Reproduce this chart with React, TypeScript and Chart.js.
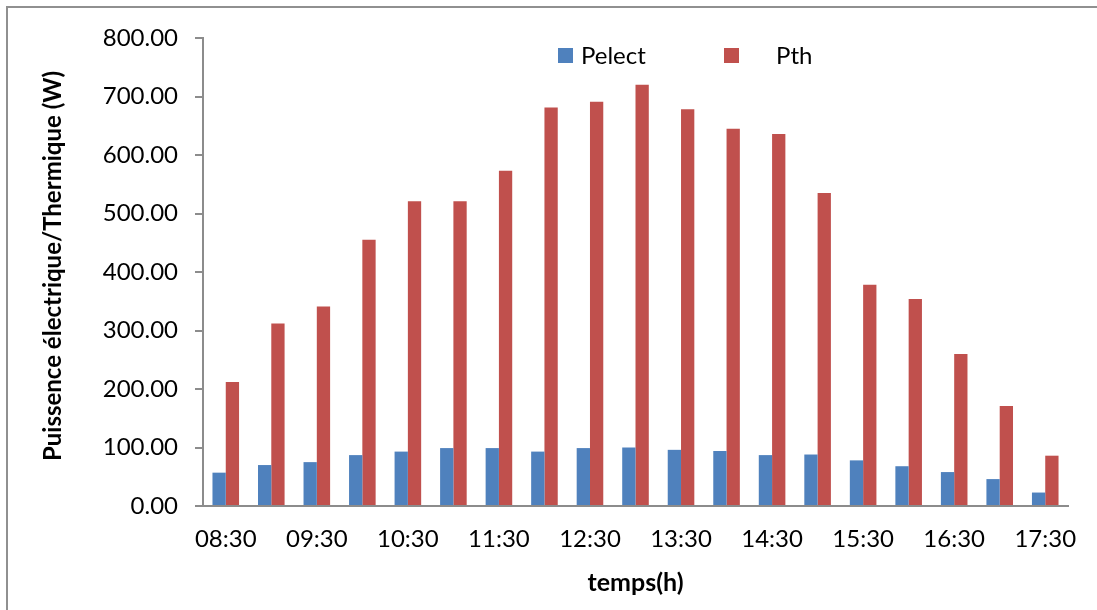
import React, { useEffect, useRef } from "react";
import { Chart, registerables } from "chart.js";

Chart.register(...registerables);

const categories = [
  "08:30", "09:00", "09:30", "10:00", "10:30", "11:00", "11:30", "12:00", "12:30", "13:00",
  "13:30", "14:00", "14:30", "15:00", "15:30", "16:00", "16:30", "17:00", "17:30",
];
const pelect = [57, 70, 75, 87, 93, 99, 99, 93, 99, 100, 96, 94, 87, 88, 78, 68, 58, 46, 23];
const pth = [212, 312, 341, 455, 521, 521, 573, 681, 691, 720, 678, 645, 636, 535, 378, 354, 260, 171, 86];
const yTicks = [0, 100, 200, 300, 400, 500, 600, 700, 800];
const seriesNames = ["Pelect", "Pth"];
const yTitle = "Puissence électrique/Thermique (W)";
const xTitle = "temps(h)";

const BLUE = "#4F81BD";
const RED = "#C0504D";
const AXIS = "#8c8c8c";
const FONT = "Lato, 'Open Sans', sans-serif";

export default function App() {
  const ref = useRef<HTMLCanvasElement | null>(null);

  useEffect(() => {
    if (!ref.current) return;
    Chart.defaults.color = "#000";

    const extras = {
      id: "extras",
      beforeDraw(chart: any) {
        const ctx = chart.ctx;
        ctx.save();
        ctx.fillStyle = "#fff";
        ctx.fillRect(0, 0, chart.width, chart.height);
        ctx.strokeStyle = "#909090";
        ctx.lineWidth = 2;
        ctx.beginPath();
        ctx.moveTo(7, chart.height);
        ctx.lineTo(7, 7);
        ctx.lineTo(chart.width, 7);
        ctx.stroke();
        ctx.restore();
      },
      afterDraw(chart: any) {
        const ctx = chart.ctx;
        ctx.save();
        // y axis title
        ctx.translate(53, 266);
        ctx.rotate(-Math.PI / 2);
        ctx.font = `bold 24px ${FONT}`;
        ctx.fillStyle = "#000";
        ctx.textAlign = "center";
        ctx.textBaseline = "middle";
        ctx.fillText(yTitle, 0, 0);
        ctx.restore();

        // legend
        ctx.save();
        ctx.font = `24px ${FONT}`;
        ctx.textBaseline = "middle";
        ctx.fillStyle = "#000";
        const items = [
          { box: 558, text: 581 },
          { box: 724, text: 776 },
        ];
        chart.data.datasets.forEach((ds: any, i: number) => {
          const it = items[i];
          ctx.fillStyle = ds.backgroundColor;
          ctx.fillRect(it.box, 48, 15, 15);
          ctx.fillStyle = "#000";
          ctx.fillText(ds.label, it.text, 56);
        });
        ctx.restore();
      },
    };

    const chart = new Chart(ref.current, {
      type: "bar",
      data: {
        labels: categories,
        datasets: [
          { label: seriesNames[0], data: pelect, backgroundColor: BLUE, borderWidth: 0 },
          { label: seriesNames[1], data: pth, backgroundColor: RED, borderWidth: 0 },
        ],
      },
      options: {
        animation: false,
        responsive: false,
        maintainAspectRatio: false,
        devicePixelRatio: 1,
        layout: { padding: { top: 38, right: 29, left: 0, bottom: 0 } },
        datasets: { bar: { categoryPercentage: 0.584, barPercentage: 1 } },
        plugins: {
          legend: { display: false },
          tooltip: { enabled: false },
          title: { display: false },
        },
        scales: {
          x: {
            grid: { display: false, drawTicks: false },
            border: { display: true, color: AXIS, width: 2 },
            ticks: {
              autoSkip: false,
              maxRotation: 0,
              minRotation: 0,
              padding: 19,
              font: { family: FONT, size: 24 },
              color: "#000",
              callback: (_v: any, i: number) => (i % 2 === 0 ? categories[i] : ""),
            },
            title: {
              display: true,
              text: xTitle,
              font: { family: FONT, size: 25, weight: "bold" },
              color: "#000",
              padding: { top: 0, bottom: 12 },
            },
            afterFit: (s: any) => {
              s.height = 104;
            },
          },
          y: {
            min: 0,
            max: 800,
            afterBuildTicks: (s: any) => {
              s.ticks = yTicks.map((v) => ({ value: v }));
            },
            grid: {
              drawOnChartArea: false,
              drawTicks: true,
              tickLength: 8,
              color: AXIS,
              lineWidth: 2,
            },
            border: { display: true, color: AXIS, width: 2 },
            ticks: {
              padding: 17,
              font: { family: FONT, size: 24 },
              color: "#000",
              callback: (v: any) => Number(v).toFixed(2),
            },
            afterFit: (s: any) => {
              s.width = 203;
            },
          },
        },
      },
      plugins: [extras],
    });
    return () => chart.destroy();
  }, []);

  return (
    <div style={{ position: "fixed", left: 0, top: 0, width: 1097, height: 610, background: "#fff" }}>
      <canvas ref={ref} width={1097} height={610} style={{ width: 1097, height: 610, display: "block" }} />
    </div>
  );
}
